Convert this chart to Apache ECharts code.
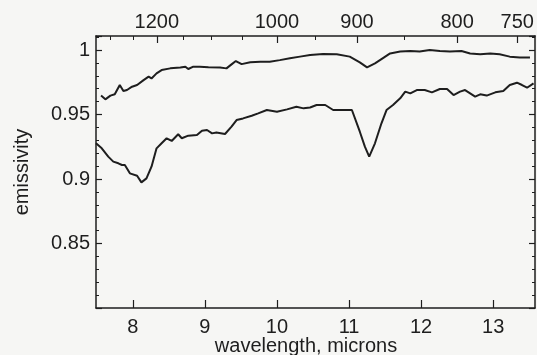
<!DOCTYPE html>
<html>
<head>
<meta charset="utf-8">
<script src="https://cdn.jsdelivr.net/npm/echarts@6/dist/echarts.min.js"></script>
<style>
html,body{margin:0;padding:0;background:#f6f6f4;}
#c{width:537px;height:355px;}
</style>
</head>
<body>
<div id="c"></div>
<script>
// wavelength (microns) and emissivity for the upper curve
var upperX = [7.56,7.62,7.69,7.75,7.82,7.87,7.92,7.99,8.06,8.15,8.22,8.26,8.33,8.40,8.52,8.66,8.73,8.77,8.84,8.93,9.05,9.21,9.30,9.37,9.43,9.51,9.63,9.77,9.90,10.04,10.18,10.32,10.46,10.64,10.83,11.01,11.15,11.25,11.36,11.45,11.57,11.71,11.85,11.98,12.12,12.26,12.40,12.56,12.68,12.82,12.96,13.09,13.23,13.37,13.51];
var upperY = [0.9647,0.9618,0.9647,0.9657,0.9729,0.9682,0.969,0.9716,0.9729,0.9767,0.9794,0.978,0.9819,0.9845,0.9858,0.9864,0.9871,0.9853,0.9871,0.9871,0.9866,0.9864,0.9858,0.9889,0.9915,0.9891,0.9905,0.991,0.991,0.9922,0.9936,0.9949,0.9962,0.9969,0.9967,0.9949,0.9905,0.9866,0.9897,0.993,0.9974,0.9988,0.9992,0.9988,1.0,0.9992,0.9988,0.9992,0.9974,0.9967,0.9974,0.9967,0.9949,0.9943,0.9943];
// lower curve
var lowerX = [7.49,7.57,7.66,7.73,7.80,7.85,7.89,7.96,8.06,8.12,8.19,8.26,8.33,8.40,8.47,8.54,8.63,8.68,8.77,8.89,8.96,9.03,9.10,9.16,9.28,9.37,9.44,9.53,9.65,9.74,9.86,10.00,10.14,10.27,10.37,10.46,10.55,10.67,10.78,10.97,11.04,11.15,11.22,11.28,11.36,11.45,11.52,11.61,11.71,11.78,11.85,11.94,12.05,12.15,12.26,12.36,12.45,12.54,12.61,12.75,12.82,12.91,13.03,13.14,13.23,13.33,13.40,13.47,13.56];
var lowerY = [0.9277,0.9238,0.9174,0.9135,0.9122,0.9109,0.9109,0.9044,0.9026,0.8974,0.9005,0.9096,0.9238,0.9277,0.9316,0.9295,0.9347,0.9316,0.9336,0.9341,0.9375,0.938,0.9354,0.936,0.9349,0.9406,0.9457,0.947,0.9491,0.9509,0.9535,0.9522,0.954,0.9561,0.9548,0.9555,0.9574,0.9574,0.9535,0.9535,0.9535,0.9367,0.9251,0.9174,0.9277,0.9432,0.9535,0.9574,0.9626,0.9678,0.9664,0.969,0.969,0.9672,0.9698,0.9698,0.9651,0.9678,0.969,0.9639,0.9657,0.9647,0.9672,0.9682,0.9729,0.9747,0.9729,0.9708,0.9742];

var bottomTicks = [8,9,10,11,12,13];
var topWavenumbers = [1200,1000,900,800,750];
var topMinorWavenumbers = [1300,1250,1150,1100,1050,950,850];

function pairs(xs, ys){ return xs.map(function(x,i){ return [x, ys[i]]; }); }

var FONT = "'Liberation Sans', Arial, sans-serif";
var INK = '#1e1e1e';
var XMIN = 7.49, XMAX = 13.58;

var chart = echarts.init(document.getElementById('c'), null, {renderer:'canvas'});
chart.setOption({
  backgroundColor: '#f6f6f4',
  animation: false,
  grid: {left: 96, right: 2, top: 36, bottom: 47, containLabel: false, outerBoundsMode: 'none'},
  xAxis: [
    {
      type: 'value', position: 'bottom', min: XMIN, max: XMAX,
      name: 'wavelength, microns', nameLocation: 'middle', nameGap: 28, nameMoveOverlap: false,
      nameTextStyle: {fontFamily: FONT, fontSize: 20, color: INK, padding: [0, 19, 0, 0]},
      axisLine: {show: true, lineStyle: {color: INK, width: 1.5}},
      axisTick: {show: true, inside: true, length: 8, customValues: bottomTicks, lineStyle: {color: INK, width: 1.2}},
      axisLabel: {show: true, customValues: bottomTicks, margin: 9, fontFamily: FONT, fontSize: 20, color: INK,
        formatter: function(v){ return String(Math.round(v)); }},
      splitLine: {show: false}
    },
    {
      type: 'value', position: 'top', min: XMIN, max: XMAX,
      axisLine: {show: true, lineStyle: {color: INK, width: 1.5}},
      axisTick: {show: true, inside: true, length: 7, customValues: topWavenumbers.map(function(w){return 10000/w;}), lineStyle: {color: INK, width: 1.2}},
      axisLabel: {show: true, customValues: topWavenumbers.map(function(w){return 10000/w;}), margin: 4, fontFamily: FONT, fontSize: 20, color: INK,
        formatter: function(v){ return String(Math.round(10000/v)); }},
      splitLine: {show: false}
    },
    {
      type: 'value', position: 'top', min: XMIN, max: XMAX,
      axisLine: {show: false},
      axisTick: {show: true, inside: true, length: 4, customValues: topMinorWavenumbers.map(function(w){return 10000/w;}), lineStyle: {color: INK, width: 1}},
      axisLabel: {show: false},
      splitLine: {show: false}
    }
  ],
  yAxis: [
    {
      type: 'value', position: 'left', min: 0.8, max: 1.0109, interval: 0.05,
      name: 'emissivity', nameLocation: 'middle', nameGap: 64, nameRotate: 90,
      nameTextStyle: {fontFamily: FONT, fontSize: 20, color: INK},
      axisLine: {show: true, lineStyle: {color: INK, width: 1.5}},
      axisTick: {show: true, inside: true, length: 6, lineStyle: {color: INK, width: 1.2}},
      minorTick: {show: true, splitNumber: 5, length: 3, lineStyle: {color: INK, width: 1}},
      axisLabel: {show: true, margin: 6, fontFamily: FONT, fontSize: 20, color: INK, showMinLabel: false, showMaxLabel: false,
        formatter: function(v){ var r = parseFloat(v.toFixed(2)); if (Math.abs(r-0.8) < 1e-6 || r > 1.001) return ''; return String(r); }},
      splitLine: {show: false}, minorSplitLine: {show: false}
    },
    {
      type: 'value', position: 'right', min: 0.8, max: 1.0109, interval: 0.05,
      axisLine: {show: true, lineStyle: {color: INK, width: 1.5}},
      axisTick: {show: true, inside: true, length: 6, lineStyle: {color: INK, width: 1.2}},
      minorTick: {show: true, splitNumber: 5, length: 3, lineStyle: {color: INK, width: 1}},
      axisLabel: {show: false},
      splitLine: {show: false}, minorSplitLine: {show: false}
    }
  ],
  series: [
    {type: 'line', xAxisIndex: 0, yAxisIndex: 0, data: pairs(upperX, upperY), symbol: 'none', smooth: false,
      lineStyle: {color: INK, width: 2}},
    {type: 'line', xAxisIndex: 0, yAxisIndex: 0, data: pairs(lowerX, lowerY), symbol: 'none', smooth: false,
      lineStyle: {color: INK, width: 2}}
  ]
});
</script>
</body>
</html>
